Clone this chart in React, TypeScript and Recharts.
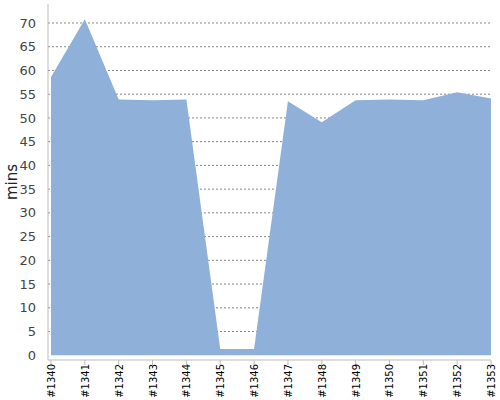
import React from 'react';
import { AreaChart, Area, XAxis, YAxis, CartesianGrid } from 'recharts';

const builds = [
  '#1340', '#1341', '#1342', '#1343', '#1344', '#1345', '#1346',
  '#1347', '#1348', '#1349', '#1350', '#1351', '#1352', '#1353',
];
const minutes = [58.6, 70.8, 53.9, 53.7, 53.9, 1.3, 1.3, 53.5, 49.1, 53.7, 53.9, 53.7, 55.4, 54.1];
const yTicks = [0, 5, 10, 15, 20, 25, 30, 35, 40, 45, 50, 55, 60, 65, 70];

const data = builds.map((b, i) => ({ build: b, mins: minutes[i] }));

const FONT = '"DejaVu Sans", Verdana, sans-serif';

function BuildTick(props: any) {
  const { x, y, payload } = props;
  return (
    <g transform={`translate(${x},${y - 3})`}>
      <text
        transform="rotate(-90)"
        x={0}
        y={0}
        dy={4}
        textAnchor="end"
        fontSize={10}
        fontFamily={FONT}
        fill="#000"
      >
        {payload.value}
      </text>
    </g>
  );
}

export default function App() {
  return (
    <div style={{ position: 'absolute', left: 0, top: 0, background: '#fff' }}>
      <AreaChart
        width={500}
        height={400}
        data={data}
        margin={{ top: 4, right: 9, left: 0, bottom: 0 }}
      >
        <CartesianGrid
          horizontal
          vertical={false}
          stroke="#888"
          strokeDasharray="2 2"
          horizontalValues={yTicks.filter((t) => t > 0)}
        />
        <XAxis
          dataKey="build"
          padding={{ left: 3, right: 0 }}
          stroke="#bbb"
          tickLine={{ stroke: '#bbb' }}
          tickSize={5}
          height={40}
          interval={0}
          tick={<BuildTick />}
        />
        <YAxis
          domain={[-1, 74]}
          ticks={yTicks}
          width={48}
          stroke="#bbb"
          tickLine={false}
          tickMargin={6}
          tick={{ fontSize: 13, fill: '#444', fontFamily: FONT }}
          label={{
            value: 'mins',
            angle: -90,
            position: 'insideLeft',
            offset: 12,
            style: { fontSize: 15, fill: '#222', fontFamily: FONT, textAnchor: 'middle' },
          }}
        />
        <Area
          type="linear"
          dataKey="mins"
          stroke="none"
          fill="#8fb0d9"
          fillOpacity={1}
          isAnimationActive={false}
        />
      </AreaChart>
    </div>
  );
}
